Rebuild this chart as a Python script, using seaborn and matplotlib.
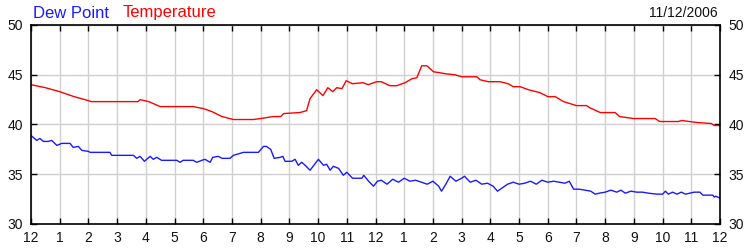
import matplotlib
matplotlib.use("Agg")
import matplotlib.pyplot as plt
import seaborn as sns
import pandas as pd
import numpy as np

# ---- data (hours since midnight, degrees F) ----
temp_hours = [0.0, 0.5, 1.0, 1.5, 2.0, 2.1, 3.73, 3.8, 4.1, 4.5, 5.65, 6.0, 6.3, 6.65, 7.05,
              7.75, 8.0, 8.45, 8.7, 8.8, 9.37, 9.6, 9.72, 9.95, 10.17, 10.34, 10.51, 10.65,
              10.83, 10.98, 11.2, 11.57, 11.75, 12.04, 12.2, 12.5, 12.74, 13.03, 13.27, 13.44,
              13.61, 13.79, 14.02, 14.25, 14.43, 14.77, 15.0, 15.53, 15.64, 15.93, 16.34,
              16.62, 16.8, 17.04, 17.32, 17.73, 18.0, 18.26, 18.55, 19.0, 19.36, 19.45, 19.83,
              20.35, 20.5, 20.98, 21.74, 21.9, 22.54, 22.67, 23.2, 23.7, 23.8, 24.0]
temp_values = [44.0, 43.7, 43.3, 42.8, 42.4, 42.3, 42.3, 42.5, 42.3, 41.8, 41.8, 41.6, 41.3,
               40.8, 40.5, 40.5, 40.6, 40.8, 40.8, 41.1, 41.2, 41.4, 42.6, 43.5, 42.9, 43.7,
               43.3, 43.7, 43.6, 44.4, 44.1, 44.2, 44.0, 44.3, 44.3, 43.9, 43.9, 44.2, 44.6,
               44.7, 45.9, 45.9, 45.3, 45.2, 45.1, 45.0, 44.8, 44.8, 44.5, 44.3, 44.3, 44.1,
               43.8, 43.8, 43.5, 43.2, 42.8, 42.8, 42.3, 41.9, 41.9, 41.7, 41.2, 41.2, 40.8,
               40.6, 40.6, 40.3, 40.3, 40.4, 40.2, 40.1, 39.9, 39.9]

dew_hours = [0.0, 0.2, 0.31, 0.43, 0.6, 0.72, 0.9, 1.07, 1.36, 1.47, 1.65, 1.77, 2.0, 2.06,
             2.75, 2.81, 3.57, 3.68, 3.8, 3.95, 4.15, 4.26, 4.38, 4.55, 5.08, 5.19, 5.3, 5.65,
             5.77, 5.95, 6.06, 6.24, 6.33, 6.53, 6.65, 6.93, 7.05, 7.17, 7.4, 7.92, 8.1, 8.2,
             8.35, 8.47, 8.68, 8.77, 8.85, 9.08, 9.2, 9.31, 9.43, 9.55, 9.72, 10.01, 10.19,
             10.3, 10.42, 10.53, 10.71, 10.88, 11.0, 11.2, 11.53, 11.59, 11.76, 11.93, 12.07,
             12.2, 12.4, 12.6, 12.8, 13.0, 13.2, 13.4, 13.6, 13.8, 14.0, 14.2, 14.3, 14.45,
             14.6, 14.8, 15.0, 15.1, 15.3, 15.5, 15.7, 15.9, 16.1, 16.25, 16.4, 16.6, 16.8,
             17.0, 17.2, 17.4, 17.6, 17.8, 18.0, 18.2, 18.4, 18.6, 18.75, 18.9, 19.1, 19.3,
             19.5, 19.65, 19.8, 20.0, 20.2, 20.4, 20.55, 20.7, 20.9, 21.1, 21.3, 21.5, 21.8,
             22.0, 22.1, 22.2, 22.35, 22.5, 22.65, 22.8, 23.1, 23.3, 23.4, 23.6, 23.75, 23.8,
             23.85, 24.0]
dew_values = [38.9, 38.4, 38.6, 38.3, 38.3, 38.4, 37.9, 38.1, 38.1, 37.7, 37.8, 37.4, 37.3,
              37.2, 37.2, 36.9, 36.9, 36.6, 36.8, 36.3, 36.8, 36.5, 36.7, 36.4, 36.4, 36.2,
              36.4, 36.4, 36.2, 36.4, 36.5, 36.2, 36.7, 36.8, 36.6, 36.6, 36.9, 37.0, 37.2,
              37.2, 37.8, 37.8, 37.5, 36.6, 36.7, 36.8, 36.3, 36.3, 36.5, 35.9, 36.2, 35.9,
              35.4, 36.5, 35.9, 36.0, 35.4, 35.8, 35.6, 34.9, 35.2, 34.6, 34.6, 34.9, 34.3,
              33.8, 34.3, 34.4, 34.0, 34.5, 34.2, 34.6, 34.3, 34.4, 34.2, 34.0, 34.3, 33.8,
              33.3, 34.0, 34.8, 34.3, 34.6, 34.8, 34.2, 34.4, 34.0, 34.1, 33.8, 33.3, 33.6,
              34.0, 34.2, 34.0, 34.1, 34.3, 34.0, 34.4, 34.2, 34.3, 34.2, 34.1, 34.3, 33.5,
              33.5, 33.4, 33.3, 33.0, 33.1, 33.2, 33.4, 33.2, 33.4, 33.1, 33.3, 33.2, 33.2,
              33.1, 33.0, 33.0, 33.3, 33.0, 33.2, 33.0, 33.2, 33.0, 33.2, 33.2, 32.9, 32.9,
              32.9, 32.7, 32.8, 32.6]

x_tick_labels = ["12", "1", "2", "3", "4", "5", "6", "7", "8", "9", "10", "11",
                 "12", "1", "2", "3", "4", "5", "6", "7", "8", "9", "10", "11", "12"]
y_ticks = [30, 35, 40, 45, 50]
date_label = "11/12/2006"

df = pd.concat([
    pd.DataFrame({"hour": dew_hours, "value": dew_values, "series": "Dew Point"}),
    pd.DataFrame({"hour": temp_hours, "value": temp_values, "series": "Temperature"}),
])

sns.set_theme(style="white")
plt.rcParams["font.family"] = ["Liberation Sans", "DejaVu Sans"]

fig = plt.figure(figsize=(7.5, 2.5), dpi=100)
ax = fig.add_axes([31 / 750, 1 - 224 / 250, 689 / 750, 199 / 250])

sns.lineplot(data=df, x="hour", y="value", hue="series",
             palette={"Dew Point": "#1a1aff", "Temperature": "#ff0000"},
             linewidth=1.0, ax=ax, legend=False, estimator=None, sort=False)

ax.set_xlim(0, 24)
ax.set_ylim(30, 50)
ax.set_xticks(range(25))
ax.set_xticklabels(x_tick_labels)
ax.set_yticks(y_ticks)
ax.set_xlabel("")
ax.set_ylabel("")
ax.grid(True, color="#d0d0d0", linewidth=1.0)
ax.set_axisbelow(True)
for s in ax.spines.values():
    s.set_visible(True)
    s.set_color("black")
    s.set_linewidth(1.2)
ax.tick_params(axis="both", which="both", direction="in", length=4, width=1,
               color="black", labelsize=10, labelcolor="#111111",
               top=True, right=True, labelright=True, bottom=True, left=True)
ax.tick_params(axis="x", pad=5)
ax.tick_params(axis="y", pad=6)

fig.text(33 / 750, 1 - 13 / 250, "Dew Point", color="#1a1aff", fontsize=12,
         ha="left", va="center")
fig.text(123 / 750, 1 - 13 / 250, "Temperature", color="#ff0000", fontsize=12,
         ha="left", va="center")
fig.text(718 / 750, 1 - 13 / 250, date_label, color="#111111", fontsize=10,
         ha="right", va="center")

fig.savefig("out.png", dpi=100)
